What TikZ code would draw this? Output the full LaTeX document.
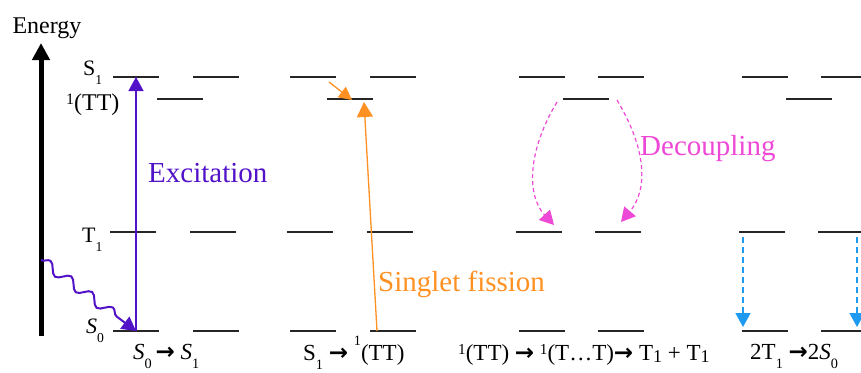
\documentclass[tikz,border=0pt]{standalone}
\usepackage{fontspec}
\setmainfont{Liberation Serif}
\newfontfamily\arrowfont{DejaVu Sans}
\usetikzlibrary{arrows.meta,positioning,decorations.pathmorphing}
\definecolor{excitepurple}{RGB}{82,18,200}
\definecolor{fissionorange}{RGB}{255,145,35}
\definecolor{decouplepink}{RGB}{238,72,214}
\definecolor{relaxblue}{RGB}{30,155,240}
\newcommand\lsub[1]{\raisebox{-.42em}{\scalebox{.62}{#1}}}
\newcommand\lsup[1]{\raisebox{.62em}{\scalebox{.62}{#1}}}
\newcommand\tsup[1]{\raisebox{.25em}{\scalebox{.66}{#1}}}
\newcommand\tsub[1]{\raisebox{-.12em}{\scalebox{.78}{#1}}}
\newcommand\rarr{{\arrowfont\bfseries\symbol{"2192}}}
\tikzset{
 level/.style={line width=1.2pt,black!85},
 lvllabel/.style={anchor=base west,inner sep=0pt,font=\fontsize{22}{24}\selectfont},
 steplabel/.style={anchor=base west,inner sep=0pt,font=\fontsize{23}{25}\selectfont},
 proclabel/.style={anchor=base west,inner sep=0pt,font=\fontsize{29}{32}\selectfont},
 bigtip/.style={-{Triangle[width=15pt,length=14pt]}}
}

\begin{document}
\begin{tikzpicture}[x=1pt,y=-1pt,line cap=butt]
\useasboundingbox (0,0) rectangle (861,372);
% energy levels: S1, 1(TT), T1, S0 for the four steps
\foreach \xl/\xr/\xm in {113/193/157,290/370/327,519/598/563,742/821/786}{
 \draw[level] (\xl,77) -- ++(46,0);
 \draw[level] (\xr,77) -- ++(46,0);
 \draw[level] (\xm,99) -- ++(46,0);
 \draw[level] (\xl-3,232) -- ++(46,0);
 \draw[level] (\xr-3,232) -- ++(46,0);
 \draw[level] (\xl,331) -- ++(46,0);
 \draw[level] (\xr,331) -- ++(46,0);
}
% energy axis
\coordinate (ebot) at (41,336);
\coordinate (etop) at (41,43);
\draw[line width=5pt,-{Triangle[width=17pt,length=17pt]}] (ebot) -- (etop);
\node[anchor=base,inner sep=0pt,font=\fontsize{24}{26}\selectfont] (energy) at (47,33) {Energy};
% level labels
\node[lvllabel] (labS1) at (83,75) {S\lsub{1}};
\node[lvllabel,font=\fontsize{24}{26}\selectfont] (labTT) at (66,110) {\tsup{1}(TT)};
\node[lvllabel] (labT1) at (82,242) {T\lsub{1}};
\node[lvllabel] (labS0) at (86,333) {\textit{S}\lsub{0}};
% excitation
\coordinate (exbot) at (136,331);
\coordinate (extop) at (136,77);
\coordinate (wstart) at (41,260);
\draw[excitepurple,line width=1.3pt,bigtip] (exbot) -- (extop);
\draw[excitepurple,line width=2pt,bigtip,decorate,
 decoration={snake,amplitude=5pt,segment length=26pt,post length=12pt}] (wstart) -- (exbot);
\node[proclabel,text=excitepurple] (excite) at (148,182) {Excitation};
% singlet fission
\coordinate (sfbot) at (377,331);
\coordinate (sftop) at (364,102);
\coordinate (icstart) at (329,82);
\coordinate (icend) at (352,100);
\draw[fissionorange,line width=1.3pt,-{Triangle[width=16pt,length=15pt]}] (sfbot) -- (sftop);
\draw[fissionorange,line width=1.3pt,-{Triangle[width=13pt,length=13pt]}] (icstart) -- (icend);
\node[proclabel,text=fissionorange] (fission) at (378,291) {Singlet fission};
% decoupling
\coordinate (dcl) at (557,102);
\coordinate (dclend) at (554,225);
\coordinate (dcr) at (617,100);
\coordinate (dcrend) at (621,222);
\draw[decouplepink,line width=1.2pt,dash pattern=on 4pt off 3pt,bigtip]
 (dcl) .. controls (528,150) and (526,195) .. (dclend);
\draw[decouplepink,line width=1.2pt,dash pattern=on 4pt off 3pt,bigtip]
 (dcr) .. controls (647,150) and (648,190) .. (dcrend);
\node[proclabel,text=decouplepink] (decouple) at (640,155) {Decoupling};
% triplet decay
\coordinate (tdl) at (743,237);
\coordinate (tdlend) at (743,327);
\coordinate (tdr) at (857,237);
\coordinate (tdrend) at (857,327);
\draw[relaxblue,line width=1.5pt,dash pattern=on 6pt off 4pt,bigtip] (tdl) -- (tdlend);
\draw[relaxblue,line width=1.5pt,dash pattern=on 6pt off 4pt,bigtip] (tdr) -- (tdrend);
% step labels
\node[steplabel] (step1) at (133,359) {\textit{S}\lsub{0}\,\rarr\ \textit{S}\lsub{1}};
\node[steplabel] (step2) at (303,360) {S\lsub{1}\ \rarr\ \lsup{1}(TT)};
\node[steplabel] (step3) at (458,360) {\tsup{1}(TT) \rarr\ \tsup{1}(T…T)\rarr\ T\tsub{1} + T\tsub{1}};
\node[steplabel] (step4) at (750,359) {2T\lsub{1}\ \rarr2\textit{S}\lsub{0}};
\end{tikzpicture}
\end{document}
